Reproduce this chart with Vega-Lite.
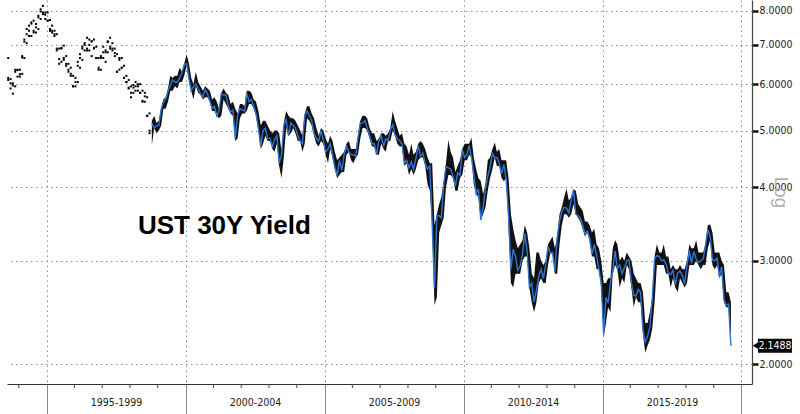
{
"$schema": "https://vega.github.io/schema/vega-lite/v6.json",
"width": 745, "height": 384,
"autosize": {"type": "none"},
"padding": {"left": 7, "top": 0, "right": 48, "bottom": 30},
"background": "white",
"config": {"view": {"stroke": null}},
"datasets": {
"minor": [{"d":"1994-01-01"},{"d":"1996-01-01"},{"d":"1997-01-01"},{"d":"1998-01-01"},{"d":"1999-01-01"},{"d":"2001-01-01"},{"d":"2002-01-01"},{"d":"2003-01-01"},{"d":"2004-01-01"},{"d":"2006-01-01"},{"d":"2007-01-01"},{"d":"2008-01-01"},{"d":"2009-01-01"},{"d":"2011-01-01"},{"d":"2012-01-01"},{"d":"2013-01-01"},{"d":"2014-01-01"},{"d":"2016-01-01"},{"d":"2017-01-01"},{"d":"2018-01-01"},{"d":"2019-01-01"}],
"early": [
{"d":"1993-08-15","lo":6.10,"hi":6.65,"c":6.15},{"d":"1993-09-15","lo":5.90,"hi":6.12,"c":6.02},{"d":"1993-10-15","lo":5.78,"hi":6.02,"c":5.97},{"d":"1993-11-15","lo":5.95,"hi":6.35,"c":6.30},{"d":"1993-12-15","lo":6.18,"hi":6.35,"c":6.34},
{"d":"1994-01-15","lo":6.18,"hi":6.35,"c":6.24},{"d":"1994-02-15","lo":6.25,"hi":6.70,"c":6.66},{"d":"1994-03-15","lo":6.65,"hi":7.15,"c":7.09},{"d":"1994-04-15","lo":7.05,"hi":7.45,"c":7.30},{"d":"1994-05-15","lo":7.25,"hi":7.55,"c":7.40},{"d":"1994-06-15","lo":7.25,"hi":7.65,"c":7.61},{"d":"1994-07-15","lo":7.35,"hi":7.70,"c":7.40},{"d":"1994-08-15","lo":7.35,"hi":7.60,"c":7.50},{"d":"1994-09-15","lo":7.45,"hi":7.85,"c":7.80},{"d":"1994-10-15","lo":7.75,"hi":8.05,"c":7.98},{"d":"1994-11-15","lo":7.90,"hi":8.16,"c":7.95},{"d":"1994-12-15","lo":7.75,"hi":7.95,"c":7.88},
{"d":"1995-01-15","lo":7.70,"hi":7.95,"c":7.70},{"d":"1995-02-15","lo":7.40,"hi":7.72,"c":7.45},{"d":"1995-03-15","lo":7.35,"hi":7.55,"c":7.40},{"d":"1995-04-15","lo":7.25,"hi":7.40,"c":7.30},{"d":"1995-05-15","lo":6.85,"hi":7.30,"c":6.90},{"d":"1995-06-15","lo":6.50,"hi":6.90,"c":6.62},{"d":"1995-07-15","lo":6.55,"hi":6.92,"c":6.90},{"d":"1995-08-15","lo":6.60,"hi":6.98,"c":6.65},{"d":"1995-09-15","lo":6.45,"hi":6.70,"c":6.50},{"d":"1995-10-15","lo":6.30,"hi":6.50,"c":6.35},{"d":"1995-11-15","lo":6.20,"hi":6.40,"c":6.25},{"d":"1995-12-15","lo":5.95,"hi":6.20,"c":5.95},
{"d":"1996-01-15","lo":5.95,"hi":6.15,"c":6.05},{"d":"1996-02-15","lo":6.05,"hi":6.55,"c":6.45},{"d":"1996-03-15","lo":6.40,"hi":6.75,"c":6.65},{"d":"1996-04-15","lo":6.60,"hi":6.95,"c":6.90},{"d":"1996-05-15","lo":6.85,"hi":7.05,"c":7.00},{"d":"1996-06-15","lo":6.85,"hi":7.20,"c":6.90},{"d":"1996-07-15","lo":6.85,"hi":7.15,"c":7.00},{"d":"1996-08-15","lo":6.70,"hi":7.10,"c":7.10},{"d":"1996-09-15","lo":6.90,"hi":7.15,"c":6.92},{"d":"1996-10-15","lo":6.65,"hi":6.95,"c":6.65},{"d":"1996-11-15","lo":6.35,"hi":6.65,"c":6.40},{"d":"1996-12-15","lo":6.35,"hi":6.70,"c":6.65},
{"d":"1997-01-15","lo":6.65,"hi":6.95,"c":6.80},{"d":"1997-02-15","lo":6.55,"hi":6.85,"c":6.80},{"d":"1997-03-15","lo":6.80,"hi":7.10,"c":7.08},{"d":"1997-04-15","lo":6.90,"hi":7.20,"c":6.95},{"d":"1997-05-15","lo":6.85,"hi":7.05,"c":6.90},{"d":"1997-06-15","lo":6.70,"hi":6.90,"c":6.78},{"d":"1997-07-15","lo":6.30,"hi":6.75,"c":6.30},{"d":"1997-08-15","lo":6.35,"hi":6.65,"c":6.60},{"d":"1997-09-15","lo":6.40,"hi":6.65,"c":6.40},{"d":"1997-10-15","lo":6.15,"hi":6.45,"c":6.15},{"d":"1997-11-15","lo":6.05,"hi":6.20,"c":6.05},{"d":"1997-12-15","lo":5.90,"hi":6.10,"c":5.92},
{"d":"1998-01-15","lo":5.70,"hi":5.95,"c":5.80},{"d":"1998-02-15","lo":5.80,"hi":5.98,"c":5.92},{"d":"1998-03-15","lo":5.85,"hi":6.05,"c":5.95},{"d":"1998-04-15","lo":5.85,"hi":6.00,"c":5.95},{"d":"1998-05-15","lo":5.80,"hi":6.00,"c":5.80},{"d":"1998-06-15","lo":5.60,"hi":5.85,"c":5.62},{"d":"1998-07-15","lo":5.60,"hi":5.80,"c":5.72},{"d":"1998-08-15","lo":5.30,"hi":5.70,"c":5.30},{"d":"1998-09-15","lo":4.95,"hi":5.35,"c":5.00}
],
"late": [
{"d":"1998-10-15","lo":4.72,"hi":5.20,"c":5.15},{"d":"1998-11-15","lo":5.05,"hi":5.30,"c":5.05},{"d":"1998-12-15","lo":4.95,"hi":5.15,"c":5.10},
{"d":"1999-01-15","lo":5.00,"hi":5.20,"c":5.10},{"d":"1999-02-15","lo":5.10,"hi":5.45,"c":5.44},{"d":"1999-03-15","lo":5.45,"hi":5.65,"c":5.60},{"d":"1999-04-15","lo":5.45,"hi":5.70,"c":5.65},{"d":"1999-05-15","lo":5.60,"hi":5.90,"c":5.83},{"d":"1999-06-15","lo":5.85,"hi":6.20,"c":5.98},{"d":"1999-07-15","lo":5.85,"hi":6.15,"c":6.10},{"d":"1999-08-15","lo":5.95,"hi":6.20,"c":6.05},{"d":"1999-09-15","lo":5.90,"hi":6.20,"c":6.05},{"d":"1999-10-15","lo":6.05,"hi":6.40,"c":6.15},{"d":"1999-11-15","lo":6.05,"hi":6.30,"c":6.28},{"d":"1999-12-15","lo":6.20,"hi":6.50,"c":6.48},
{"d":"2000-01-15","lo":6.45,"hi":6.75,"c":6.50},{"d":"2000-02-15","lo":6.05,"hi":6.50,"c":6.15},{"d":"2000-03-15","lo":5.85,"hi":6.15,"c":5.85},{"d":"2000-04-15","lo":5.65,"hi":6.00,"c":5.95},{"d":"2000-05-15","lo":5.95,"hi":6.30,"c":6.00},{"d":"2000-06-15","lo":5.80,"hi":6.05,"c":5.90},{"d":"2000-07-15","lo":5.75,"hi":5.95,"c":5.78},{"d":"2000-08-15","lo":5.65,"hi":5.85,"c":5.70},{"d":"2000-09-15","lo":5.70,"hi":5.95,"c":5.88},{"d":"2000-10-15","lo":5.70,"hi":5.90,"c":5.78},{"d":"2000-11-15","lo":5.60,"hi":5.85,"c":5.62},{"d":"2000-12-15","lo":5.40,"hi":5.65,"c":5.45},
{"d":"2001-01-15","lo":5.40,"hi":5.70,"c":5.50},{"d":"2001-02-15","lo":5.30,"hi":5.60,"c":5.30},{"d":"2001-03-15","lo":5.25,"hi":5.45,"c":5.40},{"d":"2001-04-15","lo":5.30,"hi":5.80,"c":5.78},{"d":"2001-05-15","lo":5.65,"hi":5.90,"c":5.75},{"d":"2001-06-15","lo":5.55,"hi":5.80,"c":5.75},{"d":"2001-07-15","lo":5.45,"hi":5.75,"c":5.50},{"d":"2001-08-15","lo":5.35,"hi":5.55,"c":5.38},{"d":"2001-09-15","lo":5.30,"hi":5.60,"c":5.42},{"d":"2001-10-15","lo":4.80,"hi":5.45,"c":4.85},{"d":"2001-11-15","lo":4.85,"hi":5.35,"c":5.30},{"d":"2001-12-15","lo":5.25,"hi":5.55,"c":5.45},
{"d":"2002-01-15","lo":5.35,"hi":5.55,"c":5.42},{"d":"2002-02-15","lo":5.35,"hi":5.50,"c":5.40},{"d":"2002-03-15","lo":5.40,"hi":5.85,"c":5.80},{"d":"2002-04-15","lo":5.55,"hi":5.85,"c":5.60},{"d":"2002-05-15","lo":5.55,"hi":5.80,"c":5.65},{"d":"2002-06-15","lo":5.45,"hi":5.65,"c":5.50},{"d":"2002-07-15","lo":5.30,"hi":5.60,"c":5.35},{"d":"2002-08-15","lo":5.00,"hi":5.40,"c":5.05},{"d":"2002-09-15","lo":4.65,"hi":5.10,"c":4.70},{"d":"2002-10-15","lo":4.75,"hi":5.20,"c":5.00},{"d":"2002-11-15","lo":4.90,"hi":5.20,"c":5.05},{"d":"2002-12-15","lo":4.80,"hi":5.10,"c":4.85},
{"d":"2003-01-15","lo":4.80,"hi":5.00,"c":4.85},{"d":"2003-02-15","lo":4.65,"hi":4.95,"c":4.70},{"d":"2003-03-15","lo":4.60,"hi":5.00,"c":4.82},{"d":"2003-04-15","lo":4.75,"hi":5.00,"c":4.90},{"d":"2003-05-15","lo":4.35,"hi":4.95,"c":4.40},{"d":"2003-06-15","lo":4.15,"hi":4.60,"c":4.55},{"d":"2003-07-15","lo":4.50,"hi":5.15,"c":5.10},{"d":"2003-08-15","lo":5.05,"hi":5.40,"c":5.22},{"d":"2003-09-15","lo":4.90,"hi":5.30,"c":4.90},{"d":"2003-10-15","lo":4.95,"hi":5.25,"c":5.15},{"d":"2003-11-15","lo":5.05,"hi":5.25,"c":5.10},{"d":"2003-12-15","lo":4.95,"hi":5.20,"c":5.05},
{"d":"2004-01-15","lo":4.80,"hi":5.10,"c":4.90},{"d":"2004-02-15","lo":4.80,"hi":5.00,"c":4.80},{"d":"2004-03-15","lo":4.60,"hi":4.90,"c":4.75},{"d":"2004-04-15","lo":4.75,"hi":5.35,"c":5.30},{"d":"2004-05-15","lo":5.25,"hi":5.50,"c":5.40},{"d":"2004-06-15","lo":5.20,"hi":5.50,"c":5.30},{"d":"2004-07-15","lo":5.10,"hi":5.35,"c":5.20},{"d":"2004-08-15","lo":4.90,"hi":5.25,"c":4.95},{"d":"2004-09-15","lo":4.75,"hi":5.05,"c":4.85},{"d":"2004-10-15","lo":4.70,"hi":4.90,"c":4.80},{"d":"2004-11-15","lo":4.80,"hi":5.05,"c":5.00},{"d":"2004-12-15","lo":4.75,"hi":5.00,"c":4.82},
{"d":"2005-01-15","lo":4.55,"hi":4.85,"c":4.60},{"d":"2005-02-15","lo":4.40,"hi":4.75,"c":4.65},{"d":"2005-03-15","lo":4.65,"hi":4.90,"c":4.75},{"d":"2005-04-15","lo":4.50,"hi":4.80,"c":4.55},{"d":"2005-05-15","lo":4.30,"hi":4.60,"c":4.33},{"d":"2005-06-15","lo":4.15,"hi":4.45,"c":4.20},{"d":"2005-07-15","lo":4.20,"hi":4.50,"c":4.45},{"d":"2005-08-15","lo":4.25,"hi":4.55,"c":4.28},{"d":"2005-09-15","lo":4.25,"hi":4.60,"c":4.55},{"d":"2005-10-15","lo":4.55,"hi":4.75,"c":4.70},{"d":"2005-11-15","lo":4.60,"hi":4.80,"c":4.60},{"d":"2005-12-15","lo":4.45,"hi":4.65,"c":4.55},
{"d":"2006-01-15","lo":4.40,"hi":4.65,"c":4.55},{"d":"2006-02-15","lo":4.50,"hi":4.65,"c":4.52},{"d":"2006-03-15","lo":4.55,"hi":4.90,"c":4.85},{"d":"2006-04-15","lo":4.85,"hi":5.20,"c":5.15},{"d":"2006-05-15","lo":5.05,"hi":5.30,"c":5.15},{"d":"2006-06-15","lo":5.05,"hi":5.30,"c":5.20},{"d":"2006-07-15","lo":5.00,"hi":5.25,"c":5.05},{"d":"2006-08-15","lo":4.85,"hi":5.05,"c":4.90},{"d":"2006-09-15","lo":4.70,"hi":4.95,"c":4.75},{"d":"2006-10-15","lo":4.70,"hi":4.95,"c":4.75},{"d":"2006-11-15","lo":4.55,"hi":4.80,"c":4.55},{"d":"2006-12-15","lo":4.55,"hi":4.85,"c":4.80},
{"d":"2007-01-15","lo":4.75,"hi":4.95,"c":4.90},{"d":"2007-02-15","lo":4.65,"hi":4.95,"c":4.70},{"d":"2007-03-15","lo":4.60,"hi":4.90,"c":4.85},{"d":"2007-04-15","lo":4.80,"hi":4.95,"c":4.80},{"d":"2007-05-15","lo":4.80,"hi":5.05,"c":5.00},{"d":"2007-06-15","lo":5.00,"hi":5.40,"c":5.12},{"d":"2007-07-15","lo":4.90,"hi":5.20,"c":4.92},{"d":"2007-08-15","lo":4.75,"hi":5.05,"c":4.85},{"d":"2007-09-15","lo":4.70,"hi":4.90,"c":4.80},{"d":"2007-10-15","lo":4.70,"hi":4.95,"c":4.75},{"d":"2007-11-15","lo":4.35,"hi":4.75,"c":4.40},{"d":"2007-12-15","lo":4.40,"hi":4.70,"c":4.45},
{"d":"2008-01-15","lo":4.20,"hi":4.55,"c":4.32},{"d":"2008-02-15","lo":4.30,"hi":4.75,"c":4.42},{"d":"2008-03-15","lo":4.20,"hi":4.55,"c":4.30},{"d":"2008-04-15","lo":4.30,"hi":4.60,"c":4.48},{"d":"2008-05-15","lo":4.45,"hi":4.75,"c":4.72},{"d":"2008-06-15","lo":4.50,"hi":4.80,"c":4.52},{"d":"2008-07-15","lo":4.50,"hi":4.75,"c":4.58},{"d":"2008-08-15","lo":4.35,"hi":4.65,"c":4.40},{"d":"2008-09-15","lo":4.05,"hi":4.50,"c":4.30},{"d":"2008-10-15","lo":3.95,"hi":4.40,"c":4.35},{"d":"2008-11-15","lo":3.45,"hi":4.40,"c":3.45},{"d":"2008-12-15","lo":2.52,"hi":3.45,"c":2.69},
{"d":"2009-01-15","lo":2.60,"hi":3.60,"c":3.58},{"d":"2009-02-15","lo":3.35,"hi":3.75,"c":3.58},{"d":"2009-03-15","lo":3.45,"hi":3.85,"c":3.55},{"d":"2009-04-15","lo":3.55,"hi":4.10,"c":4.05},{"d":"2009-05-15","lo":4.00,"hi":4.40,"c":4.34},{"d":"2009-06-15","lo":4.20,"hi":4.82,"c":4.32},{"d":"2009-07-15","lo":4.20,"hi":4.60,"c":4.30},{"d":"2009-08-15","lo":4.15,"hi":4.50,"c":4.18},{"d":"2009-09-15","lo":3.95,"hi":4.25,"c":4.02},{"d":"2009-10-15","lo":3.95,"hi":4.35,"c":4.24},{"d":"2009-11-15","lo":4.15,"hi":4.45,"c":4.19},{"d":"2009-12-15","lo":4.20,"hi":4.65,"c":4.64},
{"d":"2010-01-15","lo":4.45,"hi":4.75,"c":4.50},{"d":"2010-02-15","lo":4.45,"hi":4.75,"c":4.55},{"d":"2010-03-15","lo":4.55,"hi":4.75,"c":4.72},{"d":"2010-04-15","lo":4.50,"hi":4.86,"c":4.50},{"d":"2010-05-15","lo":4.05,"hi":4.50,"c":4.22},{"d":"2010-06-15","lo":3.90,"hi":4.30,"c":3.90},{"d":"2010-07-15","lo":3.85,"hi":4.15,"c":3.98},{"d":"2010-08-15","lo":3.52,"hi":4.10,"c":3.52},{"d":"2010-09-15","lo":3.60,"hi":3.90,"c":3.70},{"d":"2010-10-15","lo":3.70,"hi":4.05,"c":3.98},{"d":"2010-11-15","lo":3.95,"hi":4.45,"c":4.18},{"d":"2010-12-15","lo":4.15,"hi":4.50,"c":4.33},
{"d":"2011-01-15","lo":4.30,"hi":4.65,"c":4.57},{"d":"2011-02-15","lo":4.50,"hi":4.77,"c":4.50},{"d":"2011-03-15","lo":4.35,"hi":4.60,"c":4.50},{"d":"2011-04-15","lo":4.35,"hi":4.65,"c":4.40},{"d":"2011-05-15","lo":4.15,"hi":4.45,"c":4.22},{"d":"2011-06-15","lo":4.10,"hi":4.45,"c":4.38},{"d":"2011-07-15","lo":4.15,"hi":4.45,"c":4.12},{"d":"2011-08-15","lo":3.40,"hi":4.15,"c":3.60},{"d":"2011-09-15","lo":2.75,"hi":3.60,"c":2.90},{"d":"2011-10-15","lo":2.70,"hi":3.40,"c":3.14},{"d":"2011-11-15","lo":2.85,"hi":3.25,"c":3.05},{"d":"2011-12-15","lo":2.85,"hi":3.15,"c":2.89},
{"d":"2012-01-15","lo":2.85,"hi":3.20,"c":2.94},{"d":"2012-02-15","lo":3.00,"hi":3.25,"c":3.08},{"d":"2012-03-15","lo":3.05,"hi":3.45,"c":3.34},{"d":"2012-04-15","lo":3.05,"hi":3.35,"c":3.12},{"d":"2012-05-15","lo":2.70,"hi":3.15,"c":2.70},{"d":"2012-06-15","lo":2.55,"hi":2.85,"c":2.75},{"d":"2012-07-15","lo":2.45,"hi":2.80,"c":2.55},{"d":"2012-08-15","lo":2.55,"hi":3.10,"c":2.67},{"d":"2012-09-15","lo":2.75,"hi":3.10,"c":2.82},{"d":"2012-10-15","lo":2.80,"hi":3.00,"c":2.90},{"d":"2012-11-15","lo":2.75,"hi":2.95,"c":2.80},{"d":"2012-12-15","lo":2.75,"hi":3.00,"c":2.95},
{"d":"2013-01-15","lo":2.95,"hi":3.20,"c":3.17},{"d":"2013-02-15","lo":3.10,"hi":3.25,"c":3.09},{"d":"2013-03-15","lo":3.10,"hi":3.30,"c":3.10},{"d":"2013-04-15","lo":2.85,"hi":3.15,"c":2.88},{"d":"2013-05-15","lo":2.85,"hi":3.30,"c":3.28},{"d":"2013-06-15","lo":3.20,"hi":3.60,"c":3.50},{"d":"2013-07-15","lo":3.45,"hi":3.70,"c":3.64},{"d":"2013-08-15","lo":3.60,"hi":3.85,"c":3.70},{"d":"2013-09-15","lo":3.60,"hi":3.98,"c":3.69},{"d":"2013-10-15","lo":3.55,"hi":3.80,"c":3.62},{"d":"2013-11-15","lo":3.60,"hi":3.85,"c":3.81},{"d":"2013-12-15","lo":3.75,"hi":3.97,"c":3.96},
{"d":"2014-01-15","lo":3.60,"hi":3.95,"c":3.60},{"d":"2014-02-15","lo":3.55,"hi":3.75,"c":3.58},{"d":"2014-03-15","lo":3.50,"hi":3.70,"c":3.55},{"d":"2014-04-15","lo":3.40,"hi":3.65,"c":3.45},{"d":"2014-05-15","lo":3.30,"hi":3.50,"c":3.33},{"d":"2014-06-15","lo":3.35,"hi":3.50,"c":3.37},{"d":"2014-07-15","lo":3.25,"hi":3.45,"c":3.28},{"d":"2014-08-15","lo":3.05,"hi":3.35,"c":3.08},{"d":"2014-09-15","lo":3.05,"hi":3.40,"c":3.20},{"d":"2014-10-15","lo":2.90,"hi":3.20,"c":3.06},{"d":"2014-11-15","lo":2.90,"hi":3.15,"c":2.90},{"d":"2014-12-15","lo":2.70,"hi":3.00,"c":2.75},
{"d":"2015-01-15","lo":2.22,"hi":2.75,"c":2.25},{"d":"2015-02-15","lo":2.35,"hi":2.75,"c":2.60},{"d":"2015-03-15","lo":2.50,"hi":2.80,"c":2.54},{"d":"2015-04-15","lo":2.45,"hi":2.80,"c":2.75},{"d":"2015-05-15","lo":2.85,"hi":3.15,"c":2.88},{"d":"2015-06-15","lo":2.95,"hi":3.25,"c":3.12},{"d":"2015-07-15","lo":2.90,"hi":3.20,"c":2.91},{"d":"2015-08-15","lo":2.70,"hi":3.00,"c":2.95},{"d":"2015-09-15","lo":2.80,"hi":3.05,"c":2.85},{"d":"2015-10-15","lo":2.75,"hi":3.00,"c":2.92},{"d":"2015-11-15","lo":2.95,"hi":3.10,"c":3.00},{"d":"2015-12-15","lo":2.90,"hi":3.05,"c":3.01},
{"d":"2016-01-15","lo":2.70,"hi":3.00,"c":2.75},{"d":"2016-02-15","lo":2.50,"hi":2.85,"c":2.62},{"d":"2016-03-15","lo":2.60,"hi":2.80,"c":2.61},{"d":"2016-04-15","lo":2.55,"hi":2.75,"c":2.68},{"d":"2016-05-15","lo":2.55,"hi":2.75,"c":2.65},{"d":"2016-06-15","lo":2.25,"hi":2.65,"c":2.29},{"d":"2016-07-15","lo":2.09,"hi":2.35,"c":2.18},{"d":"2016-08-15","lo":2.15,"hi":2.35,"c":2.23},{"d":"2016-09-15","lo":2.20,"hi":2.45,"c":2.32},{"d":"2016-10-15","lo":2.30,"hi":2.60,"c":2.58},{"d":"2016-11-15","lo":2.55,"hi":3.05,"c":3.02},{"d":"2016-12-15","lo":2.95,"hi":3.20,"c":3.06},
{"d":"2017-01-15","lo":2.95,"hi":3.10,"c":3.05},{"d":"2017-02-15","lo":2.95,"hi":3.10,"c":3.00},{"d":"2017-03-15","lo":2.95,"hi":3.20,"c":3.01},{"d":"2017-04-15","lo":2.85,"hi":3.05,"c":2.96},{"d":"2017-05-15","lo":2.85,"hi":3.05,"c":2.86},{"d":"2017-06-15","lo":2.70,"hi":2.90,"c":2.84},{"d":"2017-07-15","lo":2.80,"hi":2.95,"c":2.89},{"d":"2017-08-15","lo":2.70,"hi":2.90,"c":2.73},{"d":"2017-09-15","lo":2.65,"hi":2.90,"c":2.86},{"d":"2017-10-15","lo":2.80,"hi":2.95,"c":2.88},{"d":"2017-11-15","lo":2.75,"hi":2.90,"c":2.83},{"d":"2017-12-15","lo":2.70,"hi":2.90,"c":2.74},
{"d":"2018-01-15","lo":2.75,"hi":3.00,"c":2.95},{"d":"2018-02-15","lo":2.95,"hi":3.20,"c":3.12},{"d":"2018-03-15","lo":2.95,"hi":3.15,"c":2.97},{"d":"2018-04-15","lo":2.95,"hi":3.15,"c":3.11},{"d":"2018-05-15","lo":3.00,"hi":3.25,"c":3.02},{"d":"2018-06-15","lo":2.95,"hi":3.10,"c":2.98},{"d":"2018-07-15","lo":2.90,"hi":3.10,"c":3.00},{"d":"2018-08-15","lo":2.95,"hi":3.10,"c":3.02},{"d":"2018-09-15","lo":2.95,"hi":3.20,"c":3.19},{"d":"2018-10-15","lo":3.15,"hi":3.45,"c":3.39},{"d":"2018-11-15","lo":3.25,"hi":3.46,"c":3.30},{"d":"2018-12-15","lo":2.95,"hi":3.35,"c":3.01},
{"d":"2019-01-15","lo":2.90,"hi":3.10,"c":3.00},{"d":"2019-02-15","lo":2.95,"hi":3.10,"c":3.03},{"d":"2019-03-15","lo":2.80,"hi":3.10,"c":2.82},{"d":"2019-04-15","lo":2.85,"hi":3.00,"c":2.93},{"d":"2019-05-15","lo":2.55,"hi":2.95,"c":2.58},{"d":"2019-06-15","lo":2.50,"hi":2.65,"c":2.52},{"d":"2019-07-15","lo":2.50,"hi":2.65,"c":2.53},{"d":"2019-08-15","lo":2.14,"hi":2.55,"c":2.1488}
]
},
"layer": [
{
"data": {"name": "late"},
"mark": {"type": "area", "color": "#111111", "opacity": 1, "interpolate": "linear"},
"encoding": {
"x": {"field": "d", "type": "temporal", "title": null,
"scale": {"type": "utc", "nice": false, "domain": [{"year": 1993, "month": 7, "date": 30, "utc": true}, {"year": 2020, "month": 5, "date": 18, "utc": true}]},
"axis": {"orient": "bottom", "title": null,
"values": [{"year":1995,"utc":true},{"year":2000,"utc":true},{"year":2005,"utc":true},{"year":2010,"utc":true},{"year":2015,"utc":true},{"year":2020,"utc":true}],
"grid": true, "gridColor": "#8a8a8a", "gridDash": [1.5, 3.5], "gridWidth": 1,
"domain": true, "domainColor": "#333333", "domainWidth": 1.2,
"ticks": true, "tickSize": 30, "tickWidth": 1, "tickColor": "#888888",
"labelExpr": "utcyear(datum.value) < 2020 ? (utcyear(datum.value) + '-' + (utcyear(datum.value) + 4)) : ''",
"labelOffset": 69.5, "labelPadding": -12, "labelBaseline": "middle", "labelAlign": "center",
"labelFont": "DejaVu Sans Condensed, DejaVu Sans", "labelFontSize": 10.5, "labelColor": "#222222",
"labelOverlap": false, "labelFlush": false, "labelBound": false}},
"y": {"field": "lo", "type": "quantitative", "title": "Log",
"scale": {"type": "log", "nice": false, "zero": false, "domain": [1.849, 8.35]},
"axis": {"orient": "right", "values": [2, 3, 4, 5, 6, 7, 8], "format": ".4f",
"grid": true, "gridColor": "#8a8a8a", "gridDash": [1.5, 3.5], "gridWidth": 1,
"domain": true, "domainColor": "#444444", "domainWidth": 1.2,
"ticks": true, "tickSize": 6, "tickWidth": 2.5, "tickColor": "#111111",
"labelFont": "DejaVu Sans Condensed, DejaVu Sans", "labelFontSize": 10.5, "labelColor": "#222222", "labelPadding": 1, "labelBaseline": "middle", "labelAlign": "left",
"title": "Log", "titleAngle": 90, "titleFont": "Liberation Sans", "titleFontSize": 19, "titleFontWeight": "normal", "titleColor": "#b0b0b0",
"titleX": 28, "titleY": 192, "titleAlign": "center", "titleBaseline": "middle"}},
"y2": {"field": "hi"}
}
},
{
"data": {"name": "minor"},
"mark": {"type": "rule", "color": "#444444", "strokeWidth": 1, "y2Offset": 4},
"encoding": {
"x": {"field": "d", "type": "temporal", "title": null},
"y": {"datum": 1.849, "type": "quantitative", "title": "Log"},
"y2": {"datum": 1.849}
}
},
{
"data": {"name": "late"},
"mark": {"type": "line", "color": "#2f74d0", "strokeWidth": 1.4, "interpolate": "linear"},
"encoding": {
"x": {"field": "d", "type": "temporal", "title": null},
"y": {"field": "c", "type": "quantitative", "title": "Log"}
}
},
{
"data": {"name": "early"},
"transform": [{"fold": ["lo", "hi", "c"], "as": ["k", "v"]}],
"mark": {"type": "point", "shape": "square", "filled": true, "size": 4, "color": "#000000", "opacity": 1},
"encoding": {
"x": {"field": "d", "type": "temporal", "title": null},
"y": {"field": "v", "type": "quantitative", "title": "Log"}
}
},
{
"data": {"values": [{}]},
"mark": {"type": "text", "text": "UST 30Y Yield", "font": "Liberation Sans", "fontSize": 26, "fontWeight": "bold", "align": "left", "baseline": "alphabetic", "color": "#000000"},
"encoding": {
"x": {"datum": {"year": 1998, "month": 4, "date": 15, "utc": true}, "type": "temporal", "title": null},
"y": {"datum": 3.33, "type": "quantitative", "title": "Log"}
}
},
{
"data": {"name": "late"},
"transform": [{"filter": "datum.c == 2.1488"}],
"mark": {"type": "rect", "color": "#000000", "xOffset": 27, "x2Offset": 61, "yOffset": -7, "y2Offset": 7},
"encoding": {
"x": {"field": "d", "type": "temporal", "title": null},
"x2": {"field": "d"},
"y": {"field": "c", "type": "quantitative", "title": "Log"},
"y2": {"field": "c"}
}
},
{
"data": {"name": "late"},
"transform": [{"filter": "datum.c == 2.1488"}],
"mark": {"type": "point", "shape": "triangle-left", "filled": true, "size": 60, "color": "#000000", "opacity": 1, "xOffset": 25},
"encoding": {
"x": {"field": "d", "type": "temporal", "title": null},
"y": {"field": "c", "type": "quantitative", "title": "Log"}
}
},
{
"data": {"name": "late"},
"transform": [{"filter": "datum.c == 2.1488"}],
"mark": {"type": "text", "color": "#ffffff", "font": "DejaVu Sans Condensed, DejaVu Sans", "fontSize": 10.5, "align": "center", "baseline": "middle", "dx": 44},
"encoding": {
"x": {"field": "d", "type": "temporal", "title": null},
"y": {"field": "c", "type": "quantitative", "title": "Log"},
"text": {"field": "c", "type": "quantitative", "format": ".4f"}
}
}
]
}
